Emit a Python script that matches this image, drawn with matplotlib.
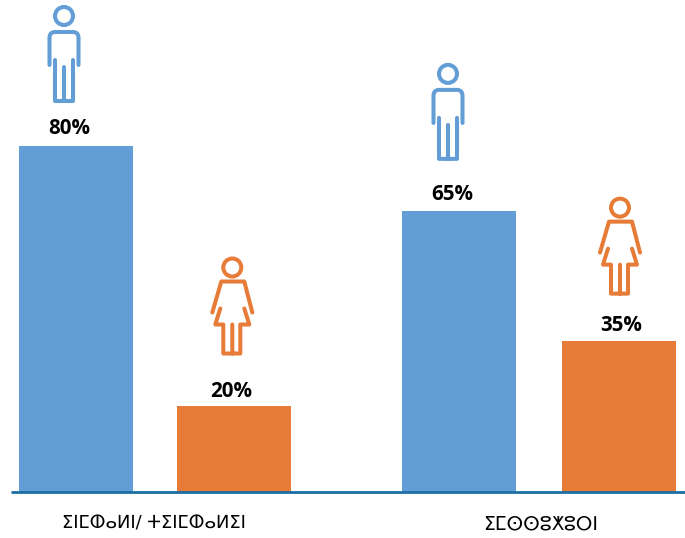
import matplotlib
matplotlib.use("Agg")
import matplotlib.pyplot as plt
from matplotlib.patches import Circle
from matplotlib.path import Path
from matplotlib.patches import PathPatch
from matplotlib.transforms import Affine2D

values = [80, 20, 65, 35]
value_labels = ["80%", "20%", "65%", "35%"]
genders = ["m", "f", "m", "f"]
category_labels = ["ⵉⵏⵎⵀⴰⵍⵏ/ ⵜⵉⵏⵎⵀⴰⵍⵉⵏ", "ⵉⵎⵙⵙⵓⵅⵓⵔⵏ"]

W, H = 685, 538
BASE_Y = 492
PX_PER_UNIT = 4.325
BLUE, ORANGE = "#639DD6", "#E77C38"

bar_x = [76, 234, 459, 619]
bar_w = 114
label_x = [69, 231, 452, 621]
label_off = [17, 14, 16, 15]
icon_x = [64, 232.3, 448, 620]
icon_off = [130, 138, 137, 133]
cat_x = [154, 541]
cat_size = [12.9, 13.5]
cat_y = 523.5

fig = plt.figure(figsize=(W / 100, H / 100), dpi=100)
ax = fig.add_axes([0, (H - BASE_Y) / H, 1, BASE_Y / H])
ax.set_xlim(0, W)
ax.set_ylim(0, BASE_Y / PX_PER_UNIT)
ax.axis("off")

colors = [BLUE if g == "m" else ORANGE for g in genders]
ax.bar(bar_x, values, width=bar_w, color=colors, linewidth=0, zorder=2)
ax.plot([11, W], [0, 0], color="#1C6EA4", lw=2, clip_on=False, zorder=3, solid_capstyle="butt")

for x, v, t, off in zip(label_x, values, value_labels, label_off):
    ax.annotate(t, (x, v), xytext=(0, off * 0.72), textcoords="offset points",
                ha="center", va="center", fontsize=14.8, fontweight="bold",
                family="Open Sans", color="black", zorder=5)

for x, t, s in zip(cat_x, category_labels, cat_size):
    fig.text(x / W, 1 - cat_y / H, t, ha="center", va="center", fontsize=s,
             family="DejaVu Sans", color="black")

M, L = Path.MOVETO, Path.LINETO
C3 = Path.CURVE3
man = Path(
    [(-14.5, 49), (-14.5, 22), (-14.5, 16), (-9, 16), (9, 16), (14.5, 16), (14.5, 22), (14.5, 49),
     (-9, 44), (-9, 85), (9, 85), (9, 44), (0, 51), (0, 85)],
    [M, L, C3, C3, L, C3, C3, L, M, L, L, L, M, L],
)
woman = Path(
    [(-20, 45), (-11, 14), (12, 14), (20, 45),
     (-12, 41), (-17, 57), (-9, 57), (-9, 86), (0, 86), (0, 57), (0, 86), (8, 86), (8, 57), (17, 57), (12, 41)],
    [M, L, L, L, M, L, L, L, L, L, M, L, L, L, L],
)

for x, v, off, g, c in zip(icon_x, values, icon_off, genders, colors):
    _, yd = ax.transData.transform((0, v))
    tr = Affine2D().scale(1, -1).translate(x, yd + off)
    head = Circle((0, 0), 9, fill=False, ec=c, lw=2.9, transform=tr, clip_on=False)
    body = PathPatch(man if g == "m" else woman, fill=False, ec=c, lw=2.9, transform=tr,
                     clip_on=False, capstyle="round", joinstyle="round")
    ax.add_artist(head)
    ax.add_artist(body)

fig.savefig("out.png", dpi=100)
